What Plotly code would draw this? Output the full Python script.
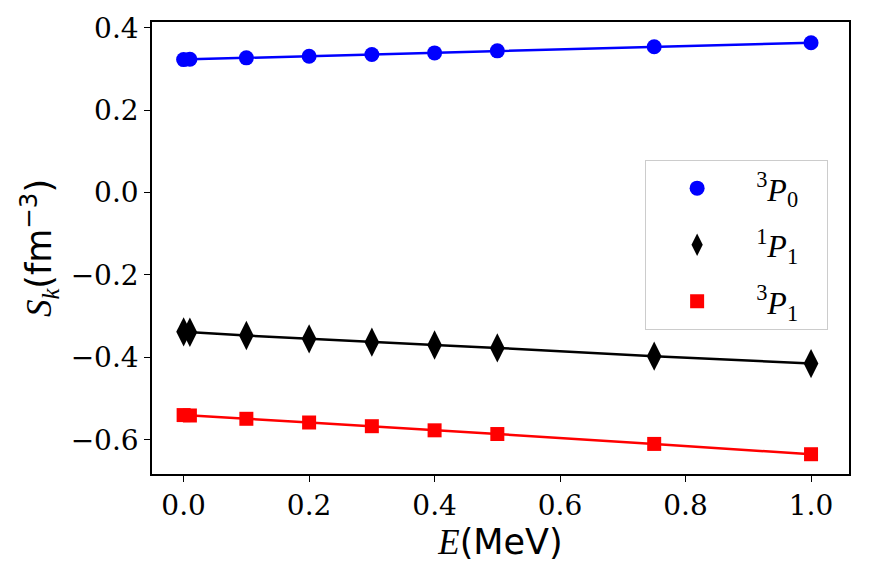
import plotly.graph_objects as go

E = [0.0, 0.01, 0.1, 0.2, 0.3, 0.4, 0.5, 0.75, 1.0]
s_3P0 = [0.3228, 0.3236, 0.327, 0.331, 0.335, 0.339, 0.344, 0.354, 0.3636]
s_1P1 = [-0.338, -0.339, -0.347, -0.355, -0.363, -0.370, -0.377, -0.397, -0.415]
s_3P1 = [-0.540, -0.541, -0.549, -0.558, -0.567, -0.577, -0.586, -0.610, -0.635]

x_ticks = [0.0, 0.2, 0.4, 0.6, 0.8, 1.0]
x_tick_labels = ["0.0", "0.2", "0.4", "0.6", "0.8", "1.0"]
y_ticks = [-0.6, -0.4, -0.2, 0.0, 0.2, 0.4]
y_tick_labels = ["−0.6", "−0.4", "−0.2", "0.0", "0.2", "0.4"]

names = ["&nbsp;<sup>3</sup><i>P</i><sub>0</sub>&nbsp;&nbsp;&nbsp;",
         "&nbsp;<sup>1</sup><i>P</i><sub>1</sub>&nbsp;&nbsp;&nbsp;",
         "&nbsp;<sup>3</sup><i>P</i><sub>1</sub>&nbsp;&nbsp;&nbsp;"]
colors = ["#0000ff", "#000000", "#ff0000"]
symbols = ["circle", "diamond-tall", "square"]
sizes = [15, 21, 14]
series = [s_3P0, s_1P1, s_3P1]

SERIF = "Liberation Serif, DejaVu Serif, serif"
TICKFONT = dict(family="DejaVu Serif", size=28, color="black")

fig = go.Figure()
for ys, c in zip(series, colors):
    fig.add_trace(go.Scatter(x=E, y=ys, mode="lines",
                             line=dict(color=c, width=2.5),
                             showlegend=False, hoverinfo="skip"))
for i, (ys, c, sym, sz, nm) in enumerate(zip(series, colors, symbols, sizes, names)):
    fig.add_trace(go.Scatter(x=E, y=ys, mode="markers", name=nm,
                             legendgroup="g%d" % i,
                             marker=dict(color=c, symbol=sym, size=sz,
                                         line=dict(width=0))))

fig.update_layout(
    template="none",
    width=871, height=584,
    margin=dict(l=152, r=22, t=22, b=110),
    plot_bgcolor="white", paper_bgcolor="white",
    font=dict(family=SERIF, size=31, color="black"),
    legend=dict(x=0.7075, y=0.695, xanchor="left", yanchor="top",
                bordercolor="#cccccc", borderwidth=1, bgcolor="white",
                font=dict(family=SERIF, size=32, color="black"),
                itemwidth=92, tracegroupgap=12, traceorder="grouped"),
    xaxis=dict(range=[-0.0504, 1.0605], tickmode="array",
               tickvals=x_ticks, ticktext=x_tick_labels, tickfont=TICKFONT,
               showline=True, linecolor="black", linewidth=1.5, mirror=True,
               ticks="outside", ticklen=6, tickwidth=1.3, tickcolor="black",
               showgrid=False, zeroline=False,
               title=dict(text="<i>E</i><span style=\"font-family:DejaVu Sans\">(MeV)</span>",
                          font=dict(family=SERIF, size=35, color="black"), standoff=6)),
    yaxis=dict(range=[-0.683, 0.414], tickmode="array",
               tickvals=y_ticks, ticktext=y_tick_labels, tickfont=TICKFONT,
               showline=True, linecolor="black", linewidth=1.5, mirror=True,
               ticks="outside", ticklen=6, tickwidth=1.3, tickcolor="black",
               showgrid=False, zeroline=False,
               title=dict(text="<i>S</i><sub><i>k</i></sub><span style=\"font-family:DejaVu Sans\">(fm<sup>−3</sup>)</span>",
                          font=dict(family=SERIF, size=35, color="black"), standoff=8)),
)

fig.write_html("out.html")
